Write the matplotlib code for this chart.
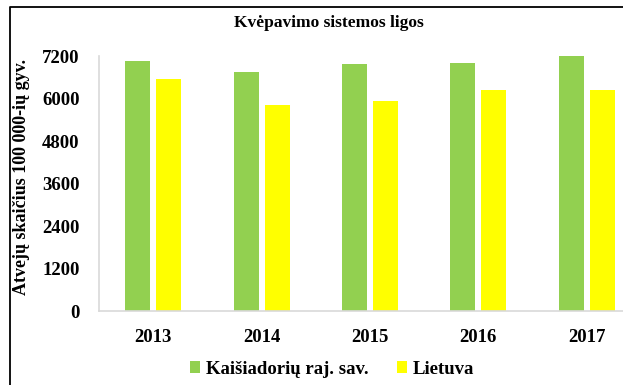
import numpy as np
import matplotlib
matplotlib.use("Agg")
import matplotlib.pyplot as plt
from matplotlib.lines import Line2D

# Kvėpavimo sistemos ligų atvejai 100 000 gyventojų
metai = ['2013', '2014', '2015', '2016', '2017']
kaisiadoriu = [7060, 6760, 6985, 7010, 7210]
lietuva = [6550, 5810, 5940, 6240, 6240]
y_ticks = [0, 1200, 2400, 3600, 4800, 6000, 7200]

plt.rcParams['font.family'] = ['Liberation Serif', 'DejaVu Serif']
plt.rcParams['font.weight'] = 'bold'

fig = plt.figure(figsize=(6.23, 3.85), dpi=100)
ax = fig.add_axes([0.159, 0.192, 0.8695, 0.662])

x = np.arange(len(metai))
w = 0.23
ax.bar(x - 0.143, kaisiadoriu, w, color='#92D050', label='Kaišiadorių raj. sav.', clip_on=False)
ax.bar(x + 0.143, lietuva, w, color='#FFFF00', label='Lietuva', clip_on=False)

ax.set_xlim(-0.5, len(metai) - 0.5)
ax.set_ylim(0, 7200)
ax.set_yticks(y_ticks)
ax.set_xticks(x)
ax.set_xticklabels(metai)
ax.tick_params(axis='both', length=0, labelsize=13.5)
ax.tick_params(axis='y', pad=14)
ax.tick_params(axis='x', pad=13)
for lbl in ax.get_xticklabels() + ax.get_yticklabels():
    lbl.set_fontweight('bold')

for s in ['top', 'right']:
    ax.spines[s].set_visible(False)
for s in ['left', 'bottom']:
    ax.spines[s].set_color('#D9D9D9')
    ax.spines[s].set_linewidth(1.2)

fig.text(22 / 623, 1 - 177 / 385, 'Atvejų skaičius 100 000-ių gyv.', rotation=90,
         ha='center', va='center', fontsize=13, fontweight='bold')
fig.text(329 / 623, 1 - 23 / 385, 'Kvėpavimo sistemos ligos', ha='center', va='center',
         fontsize=12.5, fontweight='bold')

fig.legend(loc='center', bbox_to_anchor=(332 / 623, 1 - 369 / 385), ncol=2, frameon=False,
           prop={'size': 13.5, 'weight': 'bold'}, handlelength=0.55, handleheight=0.55,
           handletextpad=0.3, columnspacing=1.5)

# rėmelis viršuje ir kairėje
fig.add_artist(Line2D([10 / 623, 10 / 623, 1], [0, 1 - 7 / 385, 1 - 7 / 385],
                      transform=fig.transFigure, color='#000000', linewidth=1.3))

fig.savefig('out.png', dpi=100)
